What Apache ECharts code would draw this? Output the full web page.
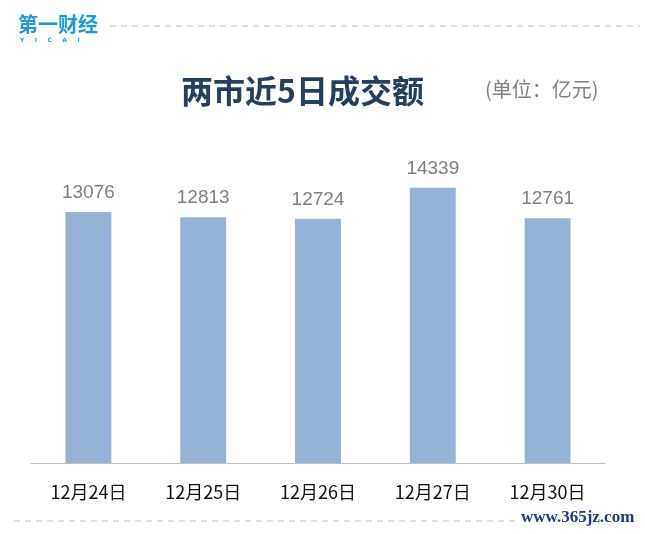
<!DOCTYPE html>
<html><head><meta charset="utf-8">
<script src="https://cdn.jsdelivr.net/npm/echarts@6/dist/echarts.min.js"></script>
<style>html,body{margin:0;padding:0;background:#fff}#c{width:645px;height:534px}</style>
</head><body><div id="c"></div>
<script>
const categories = ['12月24日','12月25日','12月26日','12月27日','12月30日'];
const values = [13076, 12813, 12724, 14339, 12761];
const titleText = '两市近5日成交额';
const unitText = '(单位：亿元)';

const chart = echarts.init(document.getElementById('c'));
chart.setOption({
  backgroundColor: '#fff',
  animation: false,
  grid: {left: 31, right: 40, top: 156, bottom: 71},
  xAxis: {
    type: 'category', data: categories,
    axisLine: {lineStyle: {color: '#c0c0c0', width: 1}},
    axisTick: {show: false},
    axisLabel: {color: '#111', fontSize: 18, margin: 20, fontFamily: 'Noto Sans CJK SC'}
  },
  yAxis: {type: 'value', min: 0, max: 16000, show: false, splitLine: {show: false}},
  series: [{
    type: 'bar', data: values, barWidth: '40%',
    itemStyle: {color: '#95b3d7'},
    label: {show: true, position: 'top', distance: 10, color: '#7f7f7f', fontSize: 19, fontFamily: 'Liberation Sans'}
  }],
  graphic: [
    {type: 'text', left: 181, top: 75, style: {text: titleText, font: 'bold 32px "Noto Sans CJK SC"', fill: '#243f60'}},
    {type: 'text', left: 485, top: 79, style: {text: unitText, font: '20px "Noto Sans CJK SC"', fill: '#808080'}},
    {type: 'text', left: 18, top: 14, style: {text: '第一财经', font: 'bold 20px "Noto Sans CJK SC"', fill: '#1b9ae0'}},
    {type: 'text', left: 20, top: 37, style: {text: 'Y     I     C     A     I', font: 'bold 6px "DejaVu Sans"', fill: '#1b9ae0'}},
    {type: 'line', shape: {x1: 110, y1: 26, x2: 640, y2: 26}, style: {stroke: '#bfbfbf', lineWidth: 1, lineDash: [6, 5]}},
    {type: 'line', shape: {x1: 14, y1: 521, x2: 518, y2: 521}, style: {stroke: '#bfbfbf', lineWidth: 1, lineDash: [6, 5]}},
    {type: 'text', left: 521, top: 509, style: {text: 'www.365jz.com', font: 'bold 17px "Liberation Serif"', fill: '#1f3c80'}}
  ]
});
</script></body></html>
